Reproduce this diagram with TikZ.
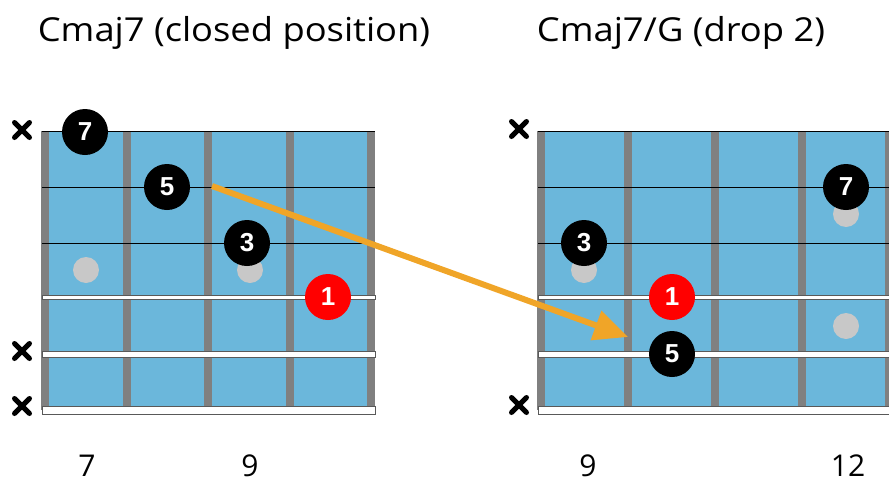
\documentclass[tikz,border=0pt]{standalone}
\usepackage{fontspec}
\setmainfont{Open Sans}
\newfontfamily\notefont{Liberation Sans}
\usetikzlibrary{arrows.meta}

\definecolor{boardblue}{RGB}{107,183,219}
\definecolor{fretgrey}{RGB}{128,128,128}
\definecolor{inlaygrey}{RGB}{200,200,200}
\definecolor{movecolor}{RGB}{240,165,40}

\tikzset{
  tone/.style={circle,fill=black,text=white,minimum size=46pt,inner sep=0pt,
    font=\notefont\bfseries\fontsize{26}{26}\selectfont},
  root/.style={tone,fill=red},
  inlay/.style={circle,fill=inlaygrey,minimum size=26pt,inner sep=0pt},
  title/.style={anchor=base,xscale=1.1,transform shape,font=\fontsize{33}{33}\selectfont},
  fretno/.style={anchor=base,inner sep=0pt,text depth=0pt,font=\fontsize{30}{30}\selectfont},
  mutemark/.style={line width=5pt,line cap=round},
  thinstring/.style={line width=1pt,black},
  woundstring/.style={fill=white,draw=black!65,line width=0.8pt},
}

\begin{document}
\begin{tikzpicture}[x=1pt,y=-1pt]
\useasboundingbox (0,0) rectangle (889,482);

%Arrow end points
\coordinate (movefrom) at (212,186);
\coordinate (moveto) at (628,337);

%Fretboards
\fill[boardblue] (42,131) rectangle (375,410);
\fill[boardblue] (538,131) rectangle (893,410);
\foreach \x in {45,126.5,208,289.5,371,541,628,715,802,889}
  \fill[fretgrey] (\x-4,131) rectangle (\x+4,410);

%Strings, plain ones on top, wound ones below
\foreach \y in {131,187,243} {
  \draw[thinstring] (42,\y) -- (375,\y);
  \draw[thinstring] (538,\y) -- (893,\y);
}
\foreach \y/\h in {297/2,354.5/3,410/4} {
  \draw[woundstring] (42,\y-\h) rectangle (375,\y+\h);
  \draw[woundstring] (538,\y-\h) rectangle (893,\y+\h);
}

%Position inlays
\node[inlay] (inlayA) at (86,270) {};
\node[inlay] (inlayB) at (250,270) {};
\node[inlay] (inlayC) at (584,270) {};
\node[inlay] (inlayD) at (846,214) {};
\node[inlay] (inlayE) at (846,326) {};

%Muted strings
\foreach \x/\y in {22/130,22/351,22/406,519/129,519/405}
  \draw[mutemark] (\x,\y) +(-7.5,-7.5) -- +(7.5,7.5) +(-7.5,7.5) -- +(7.5,-7.5);

%Chord tones, closed position
\node[tone] (sevenL) at (85,132) {7};
\node[tone] (fiveL) at (167,187) {5};
\node[tone] (threeL) at (247,243) {3};
\node[root] (rootL) at (328,297) {1};

%Chord tones, drop 2
\node[tone] (threeR) at (584,243) {3};
\node[root] (rootR) at (672,297) {1};
\node[tone] (fiveR) at (672,354) {5};
\node[tone] (sevenR) at (846,187) {7};

%Titles and fret numbers
\node[title] (titleL) at (234,41) {Cmaj7 (closed position)};
\node[title] (titleR) at (681,41) {Cmaj7/G (drop 2)};
\node[fretno] (fretA) at (87,476) {7};
\node[fretno] (fretB) at (250,476) {9};
\node[fretno] (fretC) at (588,476) {9};
\node[fretno] (fretD) at (848,476) {12};

%The dropped fifth
\draw[movecolor,line width=6pt,-{Triangle[length=34pt,width=30pt]}] (movefrom) -- (moveto);

\end{tikzpicture}
\end{document}
